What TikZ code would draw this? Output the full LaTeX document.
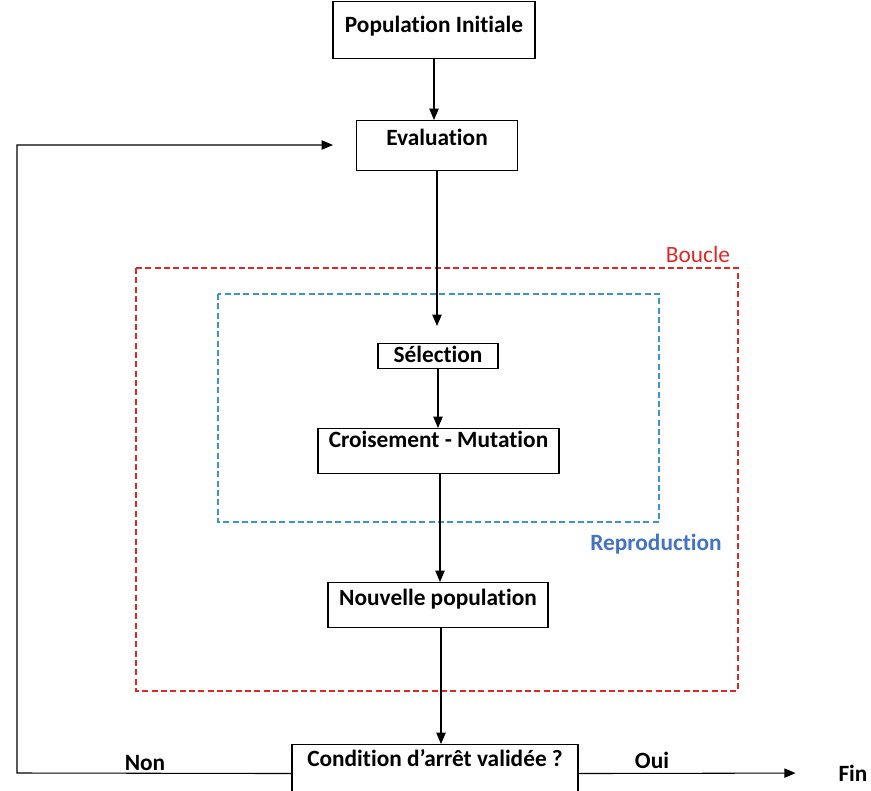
\documentclass[tikz,border=0pt]{standalone}
\usepackage{fontspec}
\setmainfont{Carlito}[Ligatures=NoCommon]
\usetikzlibrary{arrows.meta,positioning,calc}
\definecolor{boucred}{RGB}{222,40,40}
\definecolor{reproline}{RGB}{60,150,200}
\definecolor{reprotext}{RGB}{68,114,196}

\begin{document}
\begin{tikzpicture}[
    x=0.75pt, y=-0.75pt,
    box/.style={rectangle, draw, line width=0.8pt, inner sep=0pt, anchor=north, font=\fontsize{17.5}{20}\selectfont\bfseries},
    lbl/.style={inner sep=0pt, font=\fontsize{17.5}{20}\selectfont\bfseries},
    arrow/.style={-{Triangle[length=8.5pt,width=7pt]}, line width=0.8pt},
    frame/.style={line width=0.9pt, dash pattern=on 4.5pt off 2.5pt}
]
\clip (0,0) rectangle (871,791);

% Boxes
\node[box, minimum width=151.5pt, text height=23.5pt, text depth=19pt] (pop) at (434,1) {Population Initiale};
\node[box, minimum width=120.75pt, text height=19pt, text depth=18.5pt] (eval) at (437,120) {Evaluation};
\node[box, minimum width=90pt, text height=14.5pt, text depth=4.25pt] (sel) at (438,343) {Sélection};
\node[box, minimum width=180.75pt, text height=14.5pt, text depth=19.25pt] (croi) at (438.5,428) {Croisement - Mutation};
\node[box, minimum width=165pt, text height=17.5pt, text depth=16.25pt] (nouv) at (438,582) {Nouvelle population};
\node[box, minimum width=214.5pt, text height=16.75pt, text depth=26.75pt] (cond) at (435,744) {Condition d’arrêt validée ?};
\node[lbl] (fin) at (853,773) {Fin};

% Frames
\draw[frame, boucred] (136,268) rectangle (738,691);
\draw[frame, reproline] (218,294) rectangle (659,522);
\node[inner sep=0pt, font=\fontsize{17.5}{20}\selectfont, text=boucred] (boucle) at (698,254) {Boucle};
\node[lbl, text=reprotext] (repro) at (656,544) {Reproduction};

% Free ends
\coordinate (selin) at (437,326);
\coordinate (nonturn) at (17,773);
\coordinate (evalin) at (333,145);
\coordinate (croiout) at (440,473);
\coordinate (nouvout) at (441,627);

% Arrows
\draw[arrow] (pop.south) -- (pop.south |- eval.north);
\draw[arrow] (eval.south) -- (selin);
\draw[arrow] (sel.south) -- (sel.south |- croi.north);
\draw[arrow] (croiout) -- (croiout |- nouv.north);
\draw[arrow] (nouvout) -- (nouvout |- cond.north);
\draw[arrow] (cond.west) -- (nonturn) |- (evalin);
\draw[arrow, shorten >=32pt] (cond.east) -- (fin.west);

% Labels
\node[lbl] (non) at (145,763) {Non};
\node[lbl] (oui) at (652,760) {Oui};

\end{tikzpicture}
\end{document}
